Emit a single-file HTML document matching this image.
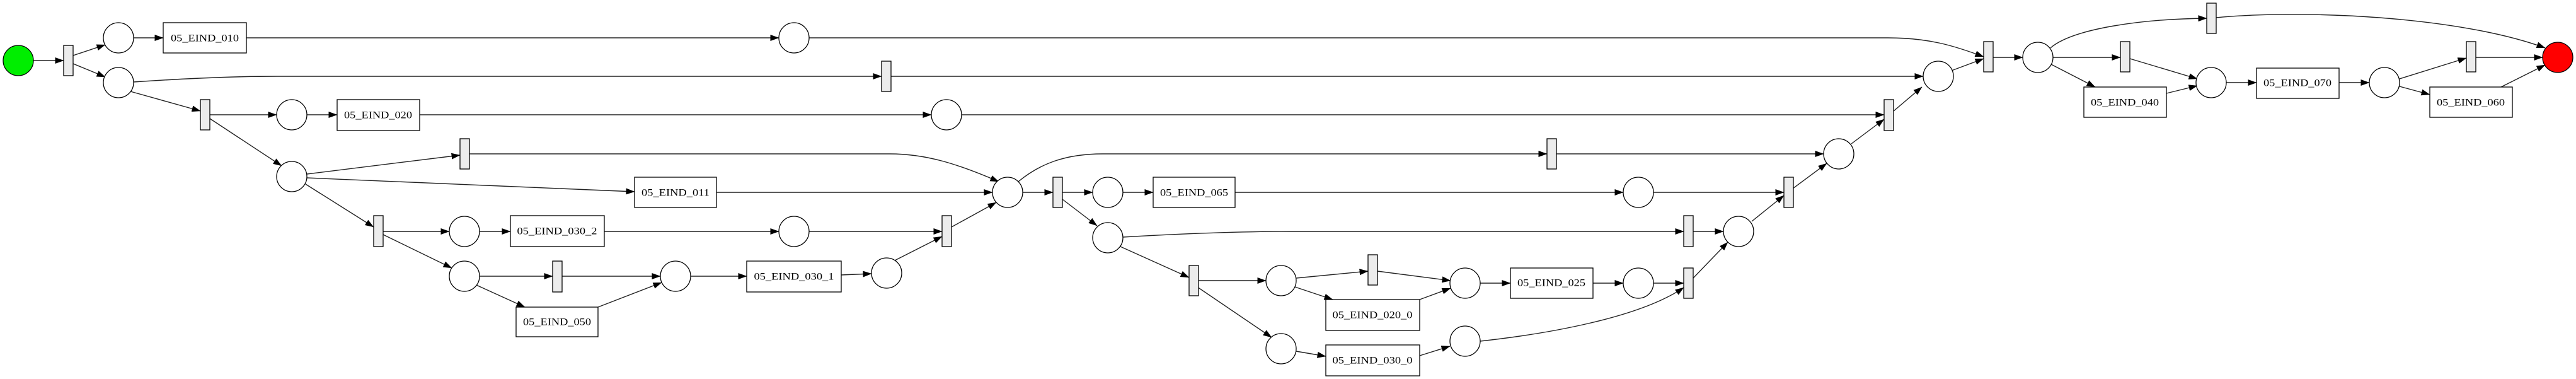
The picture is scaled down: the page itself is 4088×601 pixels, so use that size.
<!DOCTYPE html>
<html><head><meta charset="utf-8"><style>
html,body{margin:0;padding:0;background:#fff;}
svg{display:block;}
text{font-family:"Liberation Serif",serif;font-size:16px;fill:#000;}
</style></head><body>
<svg width="4088" height="601" viewBox="0 0 4088 601" xmlns="http://www.w3.org/2000/svg">
<defs>
<marker id="a" markerWidth="14" markerHeight="10" refX="13.5" refY="5" orient="auto" markerUnits="userSpaceOnUse">
<path d="M0,0 L14,5 L0,10 z" fill="#000"/>
</marker>
</defs>
<g fill="none" stroke="#222" stroke-width="1.4" marker-end="url(#a)">
<path d="M53,96 L101,96"/>
<path d="M116,88 L167,71"/>
<path d="M116,101 L167,122"/>
<path d="M212,60 L259,60"/>
<path d="M391,60 L1236,60"/>
<path d="M1284,60 L2996,60 C3060,60 3100,72 3148,90"/>
<path d="M212,130 C300,124 380,121 440,121 L1399,121"/>
<path d="M1414,121 L3052,121"/>
<path d="M207,145 L318,176"/>
<path d="M333,182 L439,182"/>
<path d="M487,182 L535,182"/>
<path d="M666,182 L1478,182"/>
<path d="M1526,182 L2990,182"/>
<path d="M333,188 L447,263"/>
<path d="M487,276 L730,246"/>
<path d="M487,282 L1007,304"/>
<path d="M745,244 L1412,244 C1470,244 1520,260 1585,288"/>
<path d="M1137,305 L1575,305"/>
<path d="M485,292 L593,360"/>
<path d="M608,367 L713,367"/>
<path d="M761,367 L810,367"/>
<path d="M959,367 L1236,367"/>
<path d="M1284,367 L1495,367"/>
<path d="M608,372 L717,425"/>
<path d="M761,438 L877,438"/>
<path d="M756,452 L833,487"/>
<path d="M892,438 L1048,438"/>
<path d="M949,487 L1050,448"/>
<path d="M1096,438 L1185,438"/>
<path d="M1335,436 L1383,434"/>
<path d="M1420,413 L1495,375"/>
<path d="M1510,360 L1581,321"/>
<path d="M1623,305 L1671,305"/>
<path d="M1616,288 C1650,260 1690,244 1750,244 L2455,244"/>
<path d="M1686,305 L1734,305"/>
<path d="M1782,305 L1830,305"/>
<path d="M1960,305 L2576,305"/>
<path d="M1686,316 L1741,358"/>
<path d="M1782,376 C1850,372 1950,367 2050,367 L2672,367"/>
<path d="M1778,391 L1887,440"/>
<path d="M1902,445 L2009,445"/>
<path d="M1900,455 L2018,535"/>
<path d="M2057,441 L2171,430"/>
<path d="M2055,455 L2115,475"/>
<path d="M2186,430 L2302,445"/>
<path d="M2253,475 L2302,457"/>
<path d="M2349,449 L2397,449"/>
<path d="M2528,449 L2576,449"/>
<path d="M2624,449 L2672,449"/>
<path d="M2057,557 L2104,565"/>
<path d="M2253,564 L2301,549"/>
<path d="M2349,541 C2450,530 2600,505 2672,456"/>
<path d="M2687,441 L2742,384"/>
<path d="M2687,367 L2735,367"/>
<path d="M2780,351 L2831,310"/>
<path d="M2624,305 L2831,305"/>
<path d="M2845,299 L2899,259"/>
<path d="M2470,244 L2894,244"/>
<path d="M2938,228 L2990,189"/>
<path d="M3004,177 L3050,138"/>
<path d="M3097,112 L3148,93"/>
<path d="M3163,91 L3210,91"/>
<path d="M3254,76 C3290,45 3400,30 3502,29"/>
<path d="M3517,28 C3650,15 3900,25 4039,76"/>
<path d="M3258,91 L3365,91"/>
<path d="M3255,102 L3325,138"/>
<path d="M3380,93 L3487,125"/>
<path d="M3438,148 L3487,136"/>
<path d="M3533,131 L3581,131"/>
<path d="M3712,131 L3760,131"/>
<path d="M3808,125 L3914,92"/>
<path d="M3808,137 L3856,150"/>
<path d="M3929,91 L4035,91"/>
<path d="M3969,138 L4039,103"/>
</g>
<g stroke="#000" stroke-width="1.3">
<circle cx="29" cy="96" r="24" fill="#00ee00"/>
<circle cx="4059" cy="91" r="24" fill="#ff0000"/>
<g fill="#fff">
<circle cx="188" cy="60" r="24"/><circle cx="188" cy="131" r="24"/>
<circle cx="1260" cy="60" r="24"/><circle cx="463" cy="182" r="24"/>
<circle cx="1502" cy="182" r="24"/><circle cx="463" cy="280" r="24"/>
<circle cx="737" cy="367" r="24"/><circle cx="737" cy="438" r="24"/>
<circle cx="1072" cy="438" r="24"/><circle cx="1407" cy="433" r="24"/>
<circle cx="1260" cy="367" r="24"/><circle cx="1599" cy="305" r="24"/>
<circle cx="1758" cy="305" r="24"/><circle cx="1758" cy="377" r="24"/>
<circle cx="2033" cy="445" r="24"/><circle cx="2033" cy="553" r="24"/>
<circle cx="3076" cy="121" r="24"/><circle cx="2918" cy="244" r="24"/>
<circle cx="2600" cy="305" r="24"/><circle cx="2759" cy="367" r="24"/>
<circle cx="2325" cy="449" r="24"/><circle cx="2600" cy="449" r="24"/>
<circle cx="2325" cy="541" r="24"/><circle cx="3234" cy="91" r="24"/>
<circle cx="3509" cy="131" r="24"/><circle cx="3784" cy="131" r="24"/>
</g>
<g fill="#ececec">
<rect x="101" y="72" width="15" height="48"/>
<rect x="1399" y="97" width="15" height="48"/>
<rect x="318" y="158" width="15" height="48"/>
<rect x="730" y="220" width="15" height="48"/>
<rect x="593" y="342" width="15" height="49"/>
<rect x="877" y="414" width="15" height="49"/>
<rect x="1495" y="342" width="15" height="49"/>
<rect x="1671" y="281" width="15" height="48"/>
<rect x="1887" y="421" width="15" height="48"/>
<rect x="2455" y="220" width="15" height="48"/>
<rect x="2990" y="158" width="15" height="49"/>
<rect x="2831" y="281" width="15" height="48"/>
<rect x="2672" y="342" width="15" height="49"/>
<rect x="2171" y="404" width="15" height="48"/>
<rect x="2672" y="425" width="15" height="48"/>
<rect x="3148" y="66" width="15" height="48"/>
<rect x="3502" y="5" width="15" height="48"/>
<rect x="3365" y="66" width="15" height="48"/>
<rect x="3914" y="66" width="15" height="48"/>
</g>
<g fill="#fff">
<rect x="259" y="36" width="132" height="48"/>
<rect x="535" y="158" width="131" height="49"/>
<rect x="1007" y="281" width="130" height="48"/>
<rect x="810" y="342" width="149" height="49"/>
<rect x="819" y="487" width="130" height="47"/>
<rect x="1185" y="414" width="150" height="49"/>
<rect x="1830" y="281" width="130" height="48"/>
<rect x="2104" y="475" width="149" height="49"/>
<rect x="2397" y="425" width="131" height="48"/>
<rect x="2104" y="547" width="149" height="49"/>
<rect x="3307" y="138" width="131" height="48"/>
<rect x="3581" y="108" width="131" height="48"/>
<rect x="3856" y="138" width="131" height="48"/>
</g>
</g>
<g text-anchor="middle" dominant-baseline="central">
<text x="325" y="61" textLength="108" lengthAdjust="spacingAndGlyphs">05_EIND_010</text>
<text x="600" y="183" textLength="108" lengthAdjust="spacingAndGlyphs">05_EIND_020</text>
<text x="1072" y="306" textLength="108" lengthAdjust="spacingAndGlyphs">05_EIND_011</text>
<text x="884" y="367" textLength="127" lengthAdjust="spacingAndGlyphs">05_EIND_030_2</text>
<text x="884" y="511" textLength="108" lengthAdjust="spacingAndGlyphs">05_EIND_050</text>
<text x="1260" y="439" textLength="127" lengthAdjust="spacingAndGlyphs">05_EIND_030_1</text>
<text x="1895" y="306" textLength="108" lengthAdjust="spacingAndGlyphs">05_EIND_065</text>
<text x="2178" y="500" textLength="127" lengthAdjust="spacingAndGlyphs">05_EIND_020_0</text>
<text x="2462" y="449" textLength="108" lengthAdjust="spacingAndGlyphs">05_EIND_025</text>
<text x="2178" y="572" textLength="127" lengthAdjust="spacingAndGlyphs">05_EIND_030_0</text>
<text x="3372" y="163" textLength="108" lengthAdjust="spacingAndGlyphs">05_EIND_040</text>
<text x="3646" y="132" textLength="108" lengthAdjust="spacingAndGlyphs">05_EIND_070</text>
<text x="3921" y="163" textLength="108" lengthAdjust="spacingAndGlyphs">05_EIND_060</text>
</g>
</svg>
</body></html>
